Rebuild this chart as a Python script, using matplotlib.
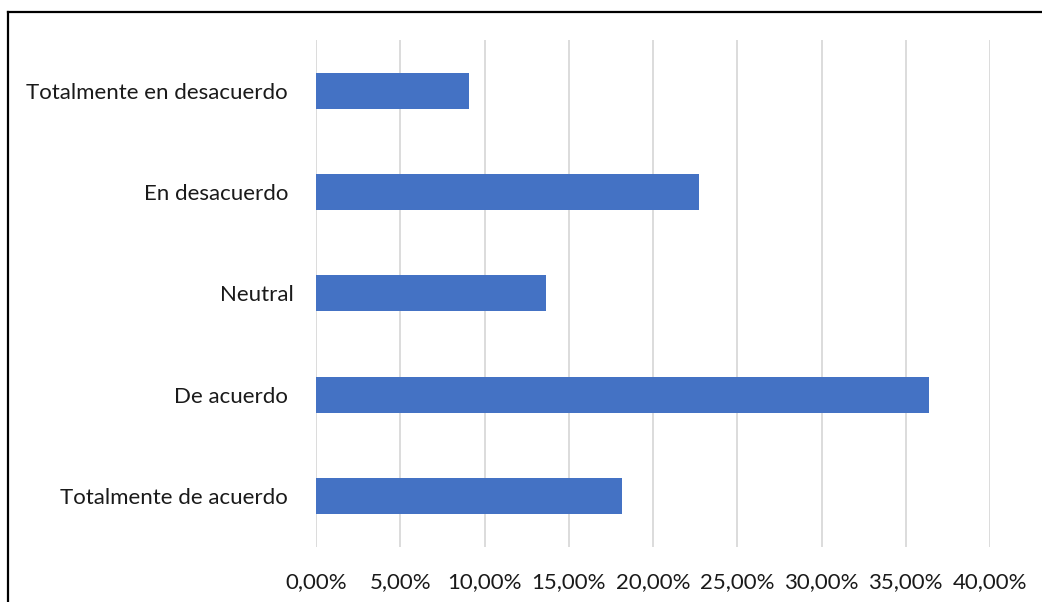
import matplotlib
matplotlib.use("Agg")
import matplotlib.pyplot as plt
from matplotlib.lines import Line2D
from matplotlib.ticker import FuncFormatter

categorias = ["Totalmente de acuerdo ", "De acuerdo ", "Neutral",
              "En desacuerdo ", "Totalmente en desacuerdo "]
porcentajes = [0.1818, 0.3636, 0.1364, 0.2273, 0.0909]
ticks_x = [0.0, 0.05, 0.10, 0.15, 0.20, 0.25, 0.30, 0.35, 0.40]

plt.rcParams['font.family'] = ['Lato', 'DejaVu Sans']

fig = plt.figure(figsize=(10.42, 6.02), dpi=100)
ax = fig.add_axes([0.3033, 0.0914, 0.6468, 0.8422])

ax.barh(categorias, porcentajes, height=0.355, color='#4472C4', zorder=3)

ax.set_xlim(0, 0.40)
ax.set_ylim(-0.5, len(categorias) - 0.5)
ax.set_xticks(ticks_x)
ax.xaxis.set_major_formatter(FuncFormatter(lambda v, p: f"{v*100:.2f}%".replace('.', ',')))
ax.grid(axis='x', color='#D9D9D9', linewidth=1.3, zorder=0)
ax.tick_params(axis='both', length=0, labelsize=16, labelcolor='#1a1a1a')
ax.tick_params(axis='y', pad=16)
ax.tick_params(axis='x', pad=18)
for s in ax.spines.values():
    s.set_visible(False)

# marco exterior (solo bordes superior e izquierdo visibles)
fig.add_artist(Line2D([0.0077, 1.0], [0.980, 0.980], color='black', linewidth=1.6,
                      transform=fig.transFigure))
fig.add_artist(Line2D([0.0077, 0.0077], [0.0, 0.980], color='black', linewidth=1.6,
                      transform=fig.transFigure))

fig.savefig("out.png", dpi=100)
